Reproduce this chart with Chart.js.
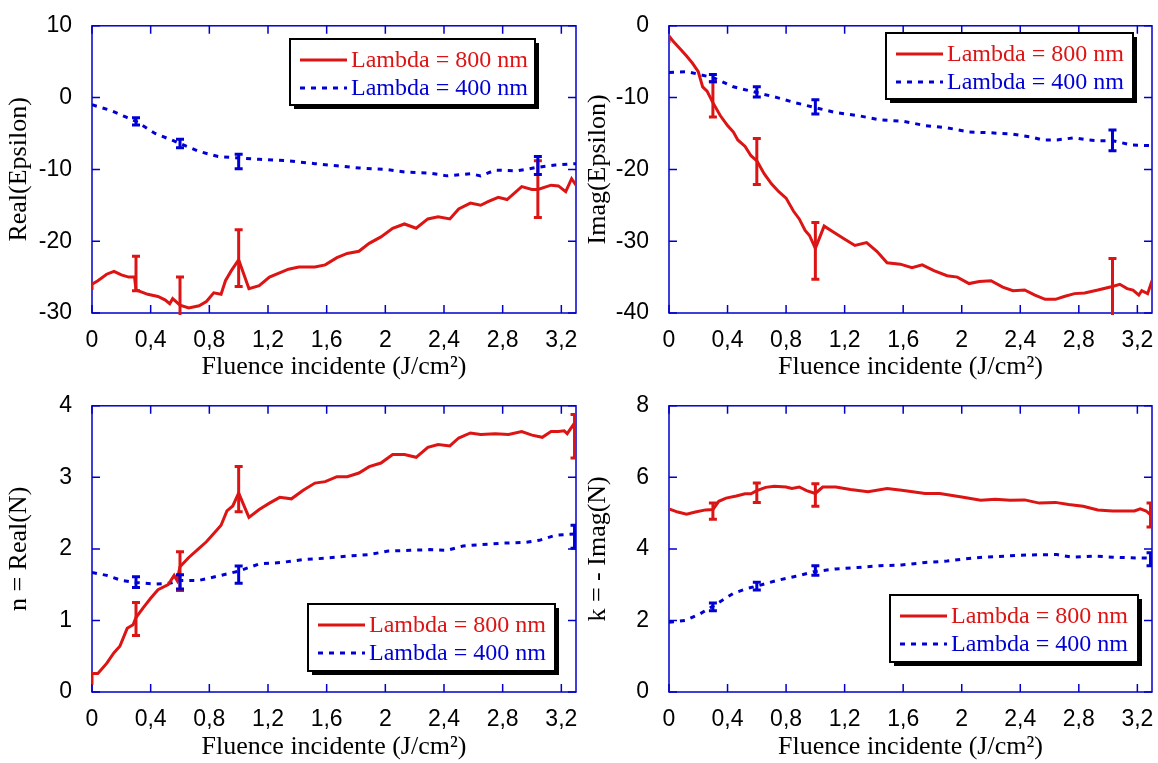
<!doctype html>
<html lang="fr">
<head>
<meta charset="UTF-8">
<title>Epsilon / N vs fluence</title>
<script src="https://cdn.jsdelivr.net/npm/chart.js@4.4.1/dist/chart.umd.min.js"></script>
<style>
  body { margin: 0; background: #fff; width: 1158px; height: 763px; position: relative; overflow: hidden; }
  .panel { position: absolute; width: 579px; height: 383px; }
</style>
</head>
<body>
<div class="panel" style="left:0;top:0"><canvas id="reEps" width="579" height="383"></canvas></div>
<div class="panel" style="left:579px;top:0"><canvas id="imEps" width="579" height="383"></canvas></div>
<div class="panel" style="left:0;top:380px"><canvas id="reN" width="579" height="383"></canvas></div>
<div class="panel" style="left:579px;top:380px"><canvas id="imN" width="579" height="383"></canvas></div>
<script>
// ---- data (fluence in J/cm2) ----
const seriesLabels = ['Lambda = 800 nm', 'Lambda = 400 nm'];
const xTicks = [0, 0.4, 0.8, 1.2, 1.6, 2, 2.4, 2.8, 3.2];

// Real(Epsilon)
const reEpsX800 = [0, 0, 0.04, 0.1, 0.15, 0.2, 0.25, 0.29, 0.3, 0.38, 0.45, 0.5, 0.53, 0.55, 0.6, 0.66, 0.73, 0.78, 0.83, 0.88, 0.91, 0.95, 1.0, 1.07, 1.14, 1.21, 1.34, 1.41, 1.52, 1.59, 1.67, 1.74, 1.82, 1.89, 1.97, 2.05, 2.13, 2.21, 2.29, 2.36, 2.44, 2.5, 2.58, 2.65, 2.7, 2.77, 2.83, 2.93, 3.0, 3.04, 3.13, 3.18, 3.23, 3.27, 3.3];
const reEpsY800 = [-26.8, -26.0, -25.5, -24.6, -24.2, -24.7, -25.0, -25.0, -26.8, -27.4, -27.7, -28.2, -28.7, -28.0, -28.9, -29.3, -29.0, -28.4, -27.2, -27.4, -25.5, -24.1, -22.6, -26.6, -26.2, -25.0, -23.9, -23.6, -23.6, -23.3, -22.3, -21.7, -21.4, -20.3, -19.4, -18.2, -17.6, -18.2, -16.9, -16.6, -16.9, -15.5, -14.7, -15.0, -14.5, -13.9, -14.2, -12.4, -12.8, -12.8, -12.2, -12.3, -13.1, -11.3, -12.2];
const reEpsX400 = [0, 0.13, 0.23, 0.3, 0.43, 0.53, 0.6, 0.73, 0.86, 1.0, 1.14, 1.34, 1.52, 1.67, 1.82, 2.0, 2.15, 2.3, 2.42, 2.58, 2.65, 2.75, 2.9, 3.04, 3.16, 3.3];
const reEpsY400 = [-1.0, -1.8, -2.7, -3.3, -5.0, -5.8, -6.4, -7.5, -8.2, -8.4, -8.6, -8.8, -9.2, -9.5, -9.8, -10.0, -10.4, -10.5, -10.9, -10.6, -10.9, -10.1, -10.2, -9.7, -9.4, -9.2];
const reEpsErr800 = { x: [0.3, 0.6, 1.0, 3.04], lo: [-26.9, -30.5, -26.3, -16.7], hi: [-22.1, -25.0, -18.4, -8.8] };
const reEpsErr400 = { x: [0.3, 0.6, 1.0, 3.04], lo: [-3.8, -7.0, -9.9, -10.7], hi: [-2.8, -5.8, -7.9, -8.2] };

// Imag(Epsilon)
const imEpsX800 = [0, 0, 0.03, 0.08, 0.12, 0.16, 0.2, 0.23, 0.26, 0.3, 0.35, 0.4, 0.44, 0.47, 0.52, 0.56, 0.6, 0.65, 0.7, 0.75, 0.8, 0.85, 0.89, 0.93, 0.96, 1.0, 1.06, 1.12, 1.19, 1.27, 1.35, 1.42, 1.49, 1.58, 1.66, 1.73, 1.81, 1.9, 1.97, 2.05, 2.12, 2.2, 2.28, 2.35, 2.43, 2.5, 2.57, 2.64, 2.7, 2.77, 2.84, 2.93, 3.03, 3.08, 3.13, 3.17, 3.21, 3.23, 3.27, 3.3];
const imEpsY800 = [-2.4, -1.4, -2.2, -3.3, -4.2, -5.2, -6.4, -8.5, -9.1, -10.7, -12.5, -13.9, -14.8, -15.9, -16.8, -18.1, -18.8, -20.6, -22.0, -23.1, -24.0, -25.8, -26.9, -28.5, -29.2, -31.0, -27.9, -28.7, -29.6, -30.6, -30.2, -31.4, -33.0, -33.2, -33.7, -33.3, -34.1, -34.8, -35.0, -35.9, -35.6, -35.5, -36.4, -36.9, -36.8, -37.5, -38.1, -38.1, -37.7, -37.3, -37.2, -36.8, -36.3, -36.0, -36.6, -36.8, -37.5, -36.9, -37.3, -35.5];
const imEpsX400 = [0, 0.13, 0.23, 0.3, 0.44, 0.6, 0.74, 0.86, 1.0, 1.14, 1.29, 1.44, 1.6, 1.75, 1.9, 2.05, 2.2, 2.35, 2.48, 2.55, 2.65, 2.77, 2.86, 2.93, 3.03, 3.16, 3.3];
const imEpsY400 = [-6.5, -6.4, -6.9, -7.2, -8.5, -9.3, -10.0, -10.7, -11.4, -12.1, -12.5, -13.1, -13.3, -13.9, -14.2, -14.8, -14.9, -15.1, -15.5, -15.9, -15.9, -15.6, -15.9, -16.0, -16.0, -16.6, -16.7];
const imEpsErr800 = { x: [0.3, 0.6, 1.0, 3.03], lo: [-12.7, -22.1, -35.3, -40.5], hi: [-7.8, -15.7, -27.4, -32.4] };
const imEpsErr400 = { x: [0.3, 0.6, 1.0, 3.03], lo: [-7.8, -9.9, -12.3, -17.4], hi: [-6.8, -8.5, -10.3, -14.5] };

// n = Real(N)
const reNX800 = [0, 0, 0.04, 0.1, 0.15, 0.19, 0.24, 0.28, 0.3, 0.35, 0.4, 0.45, 0.52, 0.56, 0.58, 0.6, 0.66, 0.72, 0.78, 0.85, 0.88, 0.92, 0.96, 1.0, 1.07, 1.14, 1.21, 1.28, 1.36, 1.44, 1.52, 1.59, 1.67, 1.74, 1.82, 1.89, 1.97, 2.05, 2.13, 2.21, 2.29, 2.36, 2.44, 2.5, 2.58, 2.65, 2.75, 2.84, 2.93, 3.0, 3.07, 3.13, 3.18, 3.22, 3.24, 3.28, 3.3];
const reNY800 = [0.1, 0.26, 0.26, 0.40, 0.55, 0.64, 0.89, 0.94, 1.04, 1.18, 1.31, 1.43, 1.50, 1.63, 1.56, 1.75, 1.88, 1.99, 2.10, 2.26, 2.33, 2.53, 2.60, 2.78, 2.44, 2.55, 2.64, 2.72, 2.70, 2.82, 2.92, 2.94, 3.01, 3.01, 3.06, 3.15, 3.20, 3.32, 3.32, 3.28, 3.42, 3.46, 3.44, 3.55, 3.62, 3.60, 3.61, 3.60, 3.64, 3.59, 3.56, 3.64, 3.64, 3.65, 3.61, 3.73, 3.63];
const reNX400 = [0, 0.1, 0.2, 0.3, 0.43, 0.53, 0.6, 0.73, 0.88, 1.0, 1.14, 1.29, 1.44, 1.59, 1.74, 1.89, 2.02, 2.17, 2.3, 2.42, 2.53, 2.65, 2.8, 2.95, 3.05, 3.16, 3.3];
const reNY400 = [1.67, 1.63, 1.56, 1.53, 1.51, 1.52, 1.56, 1.56, 1.63, 1.69, 1.79, 1.81, 1.85, 1.87, 1.90, 1.92, 1.97, 1.98, 1.99, 1.98, 2.04, 2.06, 2.08, 2.09, 2.12, 2.19, 2.21];
const reNErr800 = { x: [0.3, 0.6, 1.0, 3.29], lo: [0.79, 1.42, 2.52, 3.27], hi: [1.25, 1.96, 3.15, 3.88] };
const reNErr400 = { x: [0.3, 0.6, 1.0, 3.29], lo: [1.46, 1.44, 1.52, 2.01], hi: [1.61, 1.64, 1.76, 2.33] };

// k = -Imag(N)
const imNX800 = [0, 0.06, 0.12, 0.18, 0.25, 0.3, 0.34, 0.39, 0.46, 0.52, 0.56, 0.6, 0.66, 0.72, 0.8, 0.84, 0.89, 0.94, 1.0, 1.05, 1.14, 1.24, 1.36, 1.49, 1.59, 1.75, 1.85, 2.0, 2.13, 2.23, 2.33, 2.43, 2.53, 2.64, 2.73, 2.83, 2.93, 3.03, 3.13, 3.18, 3.22, 3.26, 3.3];
const imNY800 = [5.12, 5.03, 4.97, 5.03, 5.09, 5.10, 5.33, 5.42, 5.48, 5.54, 5.54, 5.63, 5.72, 5.75, 5.73, 5.69, 5.73, 5.63, 5.55, 5.73, 5.73, 5.66, 5.60, 5.69, 5.64, 5.55, 5.55, 5.45, 5.36, 5.39, 5.36, 5.37, 5.28, 5.30, 5.24, 5.19, 5.09, 5.06, 5.06, 5.06, 5.12, 5.06, 4.92];
const imNX400 = [0, 0.11, 0.21, 0.3, 0.44, 0.54, 0.6, 0.74, 0.86, 1.0, 1.14, 1.29, 1.44, 1.59, 1.75, 1.9, 2.0, 2.15, 2.3, 2.45, 2.6, 2.65, 2.75, 2.9, 3.03, 3.16, 3.3];
const imNY400 = [1.95, 2.0, 2.18, 2.40, 2.76, 2.90, 2.96, 3.12, 3.23, 3.37, 3.44, 3.48, 3.53, 3.55, 3.62, 3.66, 3.71, 3.77, 3.80, 3.83, 3.84, 3.84, 3.77, 3.80, 3.77, 3.75, 3.74];
const imNErr800 = { x: [0.3, 0.6, 1.0, 3.29], lo: [4.83, 5.30, 5.19, 4.61], hi: [5.28, 5.84, 5.82, 5.28] };
const imNErr400 = { x: [0.3, 0.6, 1.0, 3.29], lo: [2.27, 2.85, 3.26, 3.53], hi: [2.49, 3.07, 3.53, 3.89] };
// ---- data ----

const RED = '#dc1414';
const BLUE = '#0000d4';
const FRAME = '#0000cc';
const serif = 'Liberation Serif';
const sans = 'Liberation Sans';

const toPoints = (xs, ys) => xs.map((x, i) => ({ x: x, y: ys[i] }));

// blue frame with inward ticks on all four sides
const framePlugin = {
  id: 'frame',
  beforeDatasetsDraw(chart) {
    const { ctx, chartArea: a, scales: { x, y } } = chart;
    ctx.save();
    ctx.strokeStyle = FRAME;
    ctx.lineWidth = 1.5;
    ctx.strokeRect(a.left, a.top, a.right - a.left, a.bottom - a.top);
    ctx.beginPath();
    x.ticks.forEach(t => {
      const px = x.getPixelForValue(t.value);
      ctx.moveTo(px, a.bottom); ctx.lineTo(px, a.bottom - 8);
      ctx.moveTo(px, a.top); ctx.lineTo(px, a.top + 8);
    });
    y.ticks.forEach(t => {
      const py = y.getPixelForValue(t.value);
      ctx.moveTo(a.left, py); ctx.lineTo(a.left + 8, py);
      ctx.moveTo(a.right, py); ctx.lineTo(a.right - 8, py);
    });
    ctx.stroke();
    ctx.restore();
  }
};

const errorBarPlugin = {
  id: 'errorBars',
  afterDatasetsDraw(chart, args, opts) {
    const { ctx, chartArea: a, scales: { x, y } } = chart;
    ctx.save();
    ctx.beginPath();
    ctx.rect(a.left, a.top - 2, a.right - a.left, a.bottom - a.top + 4);
    ctx.clip();
    opts.sets.forEach(s => {
      ctx.strokeStyle = s.color;
      ctx.lineWidth = 3;
      s.data.x.forEach((v, i) => {
        const px = x.getPixelForValue(v);
        const lo = y.getPixelForValue(s.data.lo[i]);
        const hi = y.getPixelForValue(s.data.hi[i]);
        ctx.beginPath();
        ctx.moveTo(px, lo); ctx.lineTo(px, hi);
        ctx.moveTo(px - s.cap, lo); ctx.lineTo(px + s.cap, lo);
        ctx.moveTo(px - s.cap, hi); ctx.lineTo(px + s.cap, hi);
        ctx.stroke();
      });
    });
    ctx.restore();
  }
};

// boxed legend with a drop shadow
const boxLegendPlugin = {
  id: 'boxLegend',
  afterDraw(chart, args, o) {
    const ctx = chart.ctx;
    ctx.save();
    ctx.fillStyle = '#000';
    ctx.fillRect(o.x + 4, o.y + 4, o.w, o.h);
    ctx.fillStyle = '#fff';
    ctx.fillRect(o.x, o.y, o.w, o.h);
    ctx.lineWidth = 2;
    ctx.strokeStyle = '#000';
    ctx.strokeRect(o.x, o.y, o.w, o.h);
    chart.data.datasets.forEach((ds, i) => {
      const ly = o.y + 21 + i * 28;
      ctx.strokeStyle = ds.borderColor;
      ctx.lineWidth = 3;
      ctx.setLineDash(ds.borderDash || []);
      ctx.beginPath();
      ctx.moveTo(o.x + 10, ly);
      ctx.lineTo(o.x + 57, ly);
      ctx.stroke();
      ctx.setLineDash([]);
      ctx.fillStyle = ds.borderColor;
      ctx.font = '24px "' + serif + '"';
      ctx.textBaseline = 'middle';
      ctx.fillText(ds.label, o.x + 61, ly + 1);
    });
    ctx.restore();
  }
};

function makeChart(id, p) {
  return new Chart(document.getElementById(id), {
    type: 'line',
    data: {
      datasets: [{
        label: seriesLabels[0],
        data: toPoints(p.x800, p.y800),
        borderColor: RED,
        borderWidth: 3,
        pointRadius: 0,
        tension: 0
      }, {
        label: seriesLabels[1],
        data: toPoints(p.x400, p.y400),
        borderColor: BLUE,
        borderWidth: 3,
        borderDash: [5, 6],
        pointRadius: 0,
        tension: 0
      }]
    },
    options: {
      responsive: false,
      animation: false,
      layout: { padding: { top: p.top, right: p.right, left: 0, bottom: 0 } },
      plugins: {
        legend: { display: false },
        tooltip: { enabled: false },
        errorBars: { sets: [
          { data: p.err800, color: RED, cap: 4 },
          { data: p.err400, color: BLUE, cap: 4 }
        ] },
        boxLegend: p.legend
      },
      scales: {
        x: {
          type: 'linear',
          min: 0,
          max: 3.3,
          afterBuildTicks: s => { s.ticks = xTicks.map(v => ({ value: v })); },
          ticks: {
            padding: 6,
            maxRotation: 0,
            autoSkip: false,
            color: '#000',
            font: { family: sans, size: 23 },
            callback: v => String(v).replace('.', ',')
          },
          grid: { display: false },
          border: { display: false },
          title: {
            display: true,
            text: 'Fluence incidente (J/cm²)',
            color: '#000',
            font: { family: serif, size: 26 },
            padding: 0
          },
          afterFit: s => { s.height = p.xh; s.paddingLeft = 0; s.paddingRight = 0; }
        },
        y: {
          type: 'linear',
          min: p.ymin,
          max: p.ymax,
          ticks: {
            stepSize: p.ystep,
            padding: 12,
            color: '#000',
            font: { family: sans, size: 23 }
          },
          grid: { display: false },
          border: { display: false },
          title: {
            display: true,
            text: p.ytitle,
            color: '#000',
            font: { family: serif, size: 26 },
            padding: { top: 4, bottom: 0 }
          },
          afterFit: s => { s.width = p.yw; }
        }
      }
    },
    plugins: [framePlugin, errorBarPlugin, boxLegendPlugin]
  });
}

makeChart('reEps', {
  x800: reEpsX800, y800: reEpsY800, x400: reEpsX400, y400: reEpsY400,
  err800: reEpsErr800, err400: reEpsErr400,
  ymin: -30, ymax: 10, ystep: 10, ytitle: 'Real(Epsilon)',
  top: 17, right: 3, yw: 92, xh: 70,
  legend: { x: 290, y: 39, w: 245, h: 66 }
});
makeChart('imEps', {
  x800: imEpsX800, y800: imEpsY800, x400: imEpsX400, y400: imEpsY400,
  err800: imEpsErr800, err400: imEpsErr400,
  ymin: -40, ymax: 0, ystep: 10, ytitle: 'Imag(Epsilon)',
  top: 17, right: 6, yw: 90, xh: 70,
  legend: { x: 307, y: 33, w: 247, h: 66 }
});
makeChart('reN', {
  x800: reNX800, y800: reNY800, x400: reNX400, y400: reNY400,
  err800: reNErr800, err400: reNErr400,
  ymin: 0, ymax: 4, ystep: 1, ytitle: 'n = Real(N)',
  top: 16, right: 3, yw: 92, xh: 71,
  legend: { x: 308, y: 224, w: 247, h: 67 }
});
makeChart('imN', {
  x800: imNX800, y800: imNY800, x400: imNX400, y400: imNY400,
  err800: imNErr800, err400: imNErr400,
  ymin: 0, ymax: 8, ystep: 2, ytitle: 'k = - Imag(N)',
  top: 16, right: 6, yw: 90, xh: 71,
  legend: { x: 311, y: 215, w: 248, h: 67 }
});
</script>
</body>
</html>
